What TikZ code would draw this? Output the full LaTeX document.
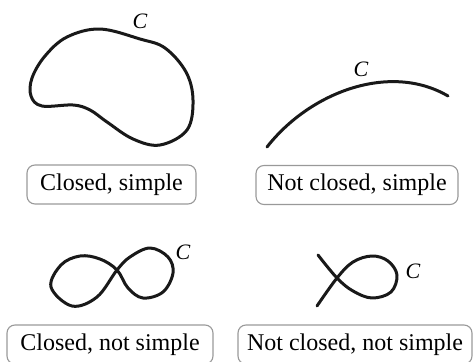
\documentclass[tikz,border=0pt]{standalone}
\usepackage{fontspec}
\setmainfont{Liberation Serif}
\begin{document}
\begin{tikzpicture}[x=1pt,y=-1pt,
  curve/.style={line width=3pt,black!90,line cap=round,line join=round},
  kind/.style={draw=black!40,line width=1.1pt,rounded corners=8pt,inner sep=0pt,
    minimum height=39pt,font=\fontsize{24}{28}\selectfont},
  cname/.style={inner sep=0pt,font=\fontsize{22}{24}\selectfont\itshape}]
  \useasboundingbox (0,0) rectangle (475,362);
  % cerrada y simple
  \draw[curve] plot[smooth cycle,tension=0.6] coordinates {(100,29) (140,39) (165,48) (186,72) (193,100) (187,130) (160,145) (133,139) (107,122) (90,110) (73,105) (42,106) (31,96) (32,78) (45,56) (67,37)};
  \node[cname] (c1) at (140,21) {C};
  % abierta y simple
  \draw[curve] (267,147) .. controls (310,92) and (390,62) .. (448,96);
  \node[cname] (c2) at (361,69) {C};
  % cerrada, no simple (ocho)
  \draw[curve] plot[smooth cycle,tension=0.6] coordinates {(117,270) (130,257) (150,248) (168,257) (173,273) (163,292) (143,298) (128,288) (117,270) (100,259) (80,256) (61,265) (51,287) (72,306) (97,297)};
  \node[cname] (c3) at (183,252) {C};
  % abierta, no simple (lazo)
  \draw[curve] plot[smooth,tension=0.6] coordinates {(318,255) (337,278) (353,291) (372,298) (391,292) (397,275) (388,261) (372,256) (353,262) (337,278) (317,306)};
  \node[cname] (c4) at (413,271) {C};
  % rotulos
  \node[kind,minimum width=169pt] (cs) at (111.5,184.5) {Closed, simple};
  \node[kind,minimum width=202pt] (ncs) at (357,185) {Not closed, simple};
  \node[kind,minimum width=206pt] (cns) at (110,344.5) {Closed, not simple};
  \node[kind,minimum width=234pt] (ncns) at (355,344.5) {Not closed, not simple};
\end{tikzpicture}
\end{document}
